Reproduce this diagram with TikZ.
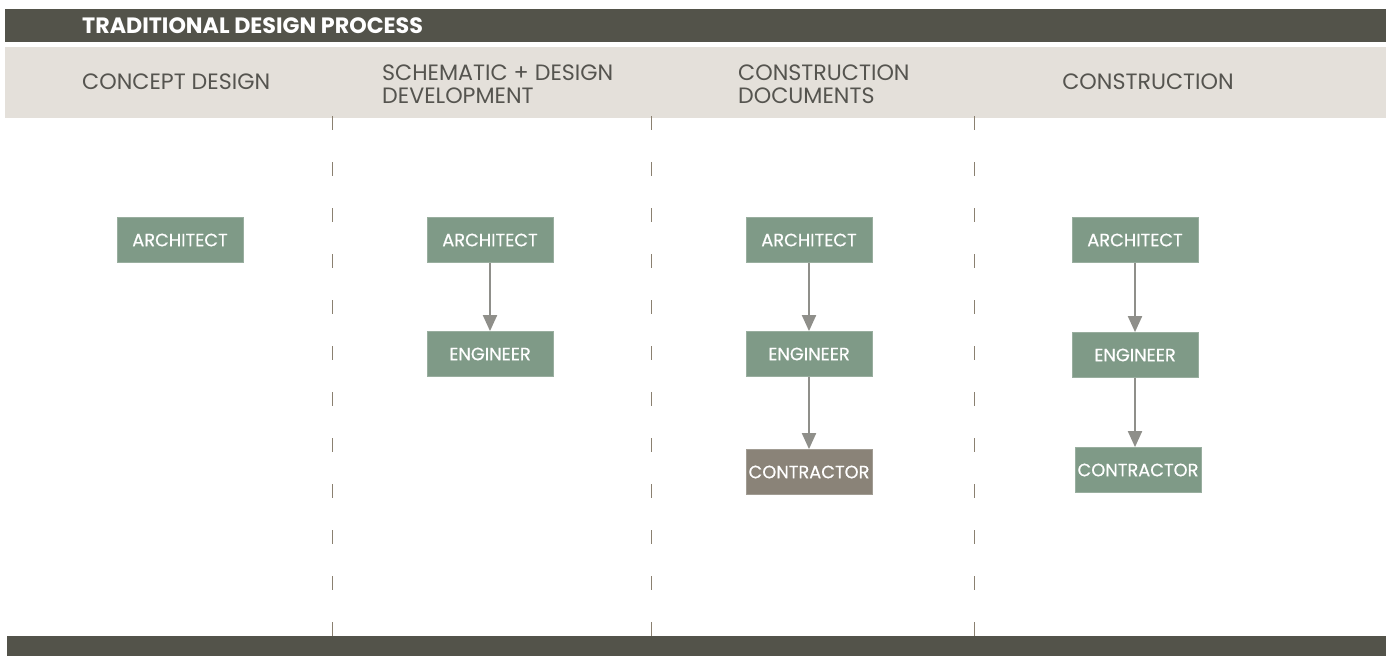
\documentclass[tikz,border=0pt]{standalone}
\usepackage{fontspec}
\setmainfont{Poppins}
\usetikzlibrary{arrows.meta}
\definecolor{darkbar}{HTML}{53534A}
\definecolor{lightband}{HTML}{E4E0DA}
\definecolor{headtext}{HTML}{55544F}
\definecolor{boxgreen}{HTML}{7F9A87}
\definecolor{boxbrown}{HTML}{8A8378}
\definecolor{arrowgray}{HTML}{8F8F8A}
\definecolor{dashcol}{HTML}{8A8070}
\tikzset{
  rolebox/.style={fill=boxgreen, draw=boxgreen!80!white, line width=0.8pt, minimum width=126pt, minimum height=45pt, inner sep=0pt, text=white, font=\fontsize{17.8}{20}\selectfont\addfontfeature{FakeBold=0.6}},
  brownbox/.style={rolebox, fill=boxbrown, draw=boxbrown!80!white},
  flow/.style={draw=arrowgray, line width=2pt, -{Triangle[width=14pt,length=16pt]}},
  colhead/.style={text=headtext, anchor=west, align=left, inner sep=0pt, font=\fontsize{22.2}{23}\selectfont},
  divider/.style={draw=dashcol, line width=1pt, dash pattern=on 14pt off 32pt}
}
\begin{document}
\begin{tikzpicture}[x=1pt,y=-1pt]
\useasboundingbox (0,0) rectangle (1386,656);
\fill[white] (0,0) rectangle (1386,656);
% bars
\fill[darkbar] (5,9) rectangle (1386,42);
\fill[lightband] (5,47) rectangle (1386,118);
\fill[darkbar] (7,636) rectangle (1386,656);
\node[anchor=west, text=white, inner sep=0pt, font=\fontsize{22.2}{24}\selectfont\bfseries] (title) at (82,26) {TRADITIONAL DESIGN PROCESS};
% column headings
\node[colhead] (h1) at (82,82) {CONCEPT DESIGN};
\node[colhead] (h2) at (382,84) {SCHEMATIC + DESIGN\\DEVELOPMENT};
\node[colhead] (h3) at (738,84) {CONSTRUCTION\\DOCUMENTS};
\node[colhead, anchor=center] (h4) at (1148,82) {CONSTRUCTION};
% dividers
\foreach \xx in {332,651,974} \draw[divider] (\xx,116) -- (\xx,636);
% boxes
\node[rolebox] (a1) at (180,240) {ARCHITECT};
\node[rolebox] (a2) at (490,240) {ARCHITECT};
\node[rolebox] (e2) at (490,354) {ENGINEER};
\node[rolebox] (a3) at (809,240) {ARCHITECT};
\node[rolebox] (e3) at (809,354) {ENGINEER};
\node[brownbox] (c3) at (809,472) {CONTRACTOR};
\node[rolebox] (a4) at (1135,240) {ARCHITECT};
\node[rolebox] (e4) at (1135,355) {ENGINEER};
\node[rolebox] (c4) at (1138,470) {CONTRACTOR};
% arrows
\draw[flow] (a2) -- (e2);
\draw[flow] (a3) -- (e3);
\draw[flow] (e3) -- (c3);
\draw[flow] (a4) -- (e4);
\draw[flow] (e4.south) -- (e4.south |- c4.north);
\end{tikzpicture}
\end{document}
